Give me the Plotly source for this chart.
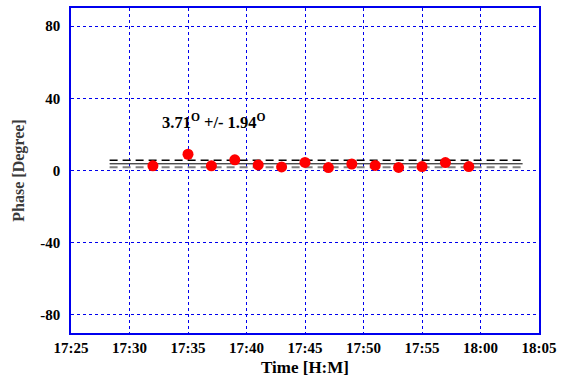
import plotly.graph_objects as go

# data
times = ["17:32", "17:35", "17:37", "17:39", "17:41", "17:43", "17:45",
         "17:47", "17:49", "17:51", "17:53", "17:55", "17:57", "17:59"]
phase = [2.6, 9.0, 2.6, 5.9, 3.1, 2.0, 4.5, 1.6, 3.6, 2.8, 1.7, 2.2, 4.4, 2.2]
mean_val = 3.71
std_val = 1.94
line_start = "17:28.3"
line_end = "18:03.6"
x_ticks = ["17:25", "17:30", "17:35", "17:40", "17:45", "17:50", "17:55", "18:00", "18:05"]
y_ticks = [-80, -40, 0, 40, 80]
y_tick_text = ["-80", "-40", "0", "40", "80"]

def ts(t):
    h, m = t.split(":")
    mf = float(m)
    mi = int(mf)
    s = (mf - mi) * 60
    return f"2000-01-01 {int(h):02d}:{mi:02d}:{s:06.3f}"

FONT = "Liberation Serif"
BLUE = "#0000ee"

fig = go.Figure()
lx = [ts(line_start), ts(line_end)]
fig.add_trace(go.Scatter(x=lx, y=[mean_val, mean_val], mode="lines",
                         line=dict(color="black", width=1), showlegend=False))
fig.add_trace(go.Scatter(x=lx, y=[mean_val + std_val] * 2, mode="lines",
                         line=dict(color="black", width=1.5, dash="8px,5px"), showlegend=False))
fig.add_trace(go.Scatter(x=lx, y=[mean_val - std_val] * 2, mode="lines",
                         line=dict(color="#808080", width=2, dash="8px,5px"), showlegend=False))
fig.add_trace(go.Scatter(x=[ts(t) for t in times], y=phase, mode="markers",
                         marker=dict(color="#ff0000", size=11, line=dict(width=0)),
                         showlegend=False))

fig.add_annotation(x=ts("17:37.2"), y=27, xref="x", yref="y",
                   text=f"{mean_val:.2f}<sup>O</sup> +/- {std_val:.2f}<sup>O</sup>",
                   showarrow=False,
                   font=dict(family=FONT, size=16.5, color="black", weight="bold"))

fig.update_xaxes(
    type="date",
    range=[ts(x_ticks[0]), ts(x_ticks[-1])],
    tickvals=[ts(t) for t in x_ticks], ticktext=x_ticks,
    showgrid=True, gridcolor=BLUE, griddash="dot", gridwidth=1,
    showline=True, linecolor=BLUE, linewidth=1.5, mirror=True,
    ticks="", zeroline=False,
    tickfont=dict(family=FONT, size=15, color="black", weight="bold"),
    title=dict(text="Time [H:M]", font=dict(family=FONT, size=17, color="black", weight="bold"), standoff=6),
)
fig.update_yaxes(
    range=[-90, 90],
    tickvals=y_ticks, ticktext=y_tick_text,
    showgrid=True, gridcolor=BLUE, griddash="dot", gridwidth=1,
    showline=True, linecolor=BLUE, linewidth=1.5, mirror=True,
    ticks="", zeroline=False, ticklabelstandoff=6,
    tickfont=dict(family=FONT, size=15, color="black", weight="bold"),
    title=dict(text="Phase [Degree]", font=dict(family=FONT, size=16, color="#3a3a3a", weight="bold"), standoff=12),
)
fig.update_layout(
    width=568, height=380,
    margin=dict(l=71, r=29, t=6, b=47),
    paper_bgcolor="white", plot_bgcolor="white",
)
fig.write_html("out.html")
